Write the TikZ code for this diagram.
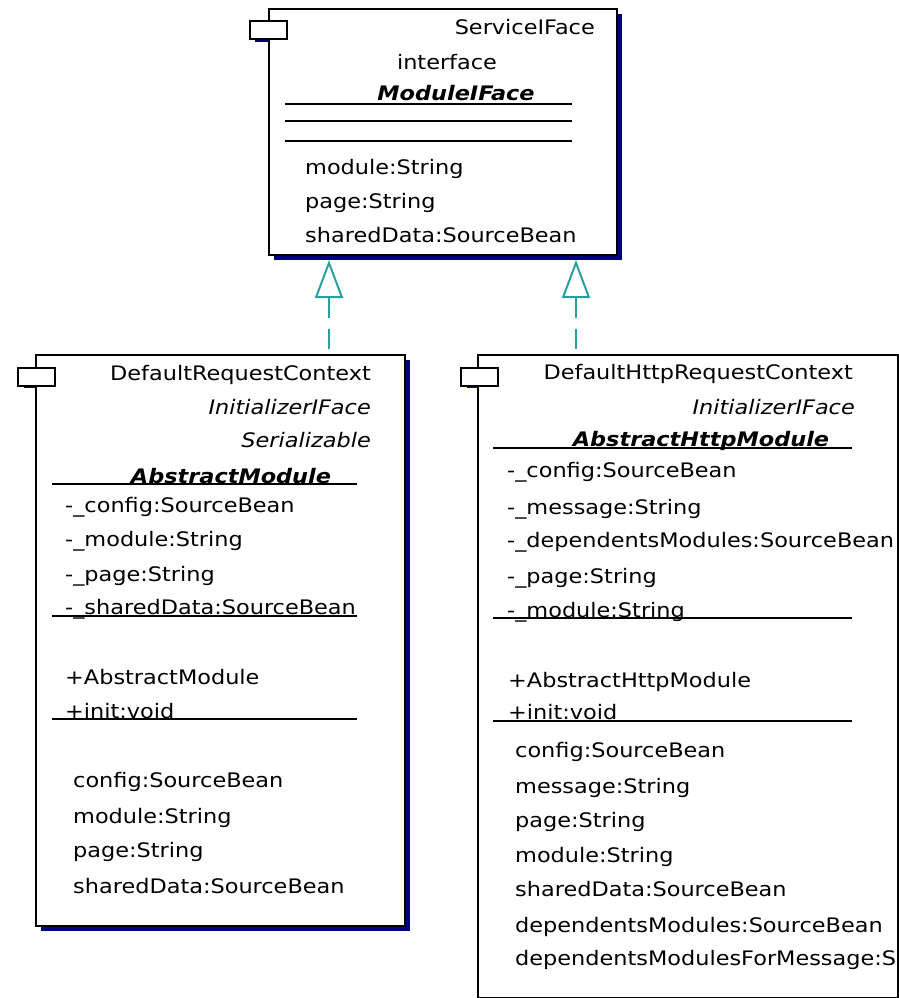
\documentclass[tikz,border=0pt]{standalone}
\usepackage{fontspec}
\setmainfont{DejaVu Sans}[FakeStretch=1.12]
\usetikzlibrary{arrows.meta,shadows}
\definecolor{shadowblue}{RGB}{0,0,128}
\definecolor{realteal}{RGB}{40,160,160}
\tikzset{
  classbox/.style={draw=black, line width=1.8pt, fill=white, anchor=north west,
    inner sep=0pt, general shadow={fill=shadowblue, shadow xshift=5pt, shadow yshift=-5pt}},
  icon/.style={draw=black, line width=1.8pt, fill=white, anchor=north west,
    inner sep=0pt, minimum width=37pt, minimum height=18pt},
  iconshade/.style={fill=shadowblue},
  lt/.style={anchor=base west, inner sep=0pt},
  rt/.style={anchor=base east, inner sep=0pt},
  ct/.style={anchor=base, inner sep=0pt},
  sep/.style={draw=black, line width=1.8pt},
  realize/.style={draw=realteal, line width=2pt, dash pattern=on 20pt off 11pt,
    {Triangle[open, length=38pt, width=28pt, line width=2pt]}-}
}
\begin{document}
\begin{tikzpicture}[x=1pt, y=-1pt, font=\fontsize{20}{24}\selectfont]
\useasboundingbox (0,0) rectangle (898,998);

% shadows of the component icons, left of each class outline
\fill[iconshade] (255,39) rectangle (270,42.5);
\fill[iconshade] (24,384) rectangle (37,387.5);
\fill[iconshade] (467,384) rectangle (479,387.5);

% ---------- ServiceIFace ----------
\node[classbox, minimum width=348pt, minimum height=246pt] (tbox) at (268,8) {};
\node[icon] (ticon) at (249,20) {};
\node[rt] (tname) at (595,35) {ServiceIFace};
\node[ct] (tster) at (447,70) {interface};
\node[ct] (tsuper) at (456,100) {\bfseries\itshape ModuleIFace};
\draw[sep] (285,104) -- (572,104);
\draw[sep] (285,121) -- (572,121);
\draw[sep] (285,141) -- (572,141);
\node[lt] (ta1) at (305,174) {module:String};
\node[lt] (ta2) at (305,208) {page:String};
\node[lt] (ta3) at (305,242) {sharedData:SourceBean};

% ---------- DefaultRequestContext ----------
\node[classbox, minimum width=369pt, minimum height=571pt] (lbox) at (35,354) {};
\node[icon] (licon) at (17,367) {};
\node[rt] (lname) at (371,380) {DefaultRequestContext};
\node[rt] (li1) at (371,414) {\itshape InitializerIFace};
\node[rt] (li2) at (371,447) {\itshape Serializable};
\node[ct] (lsuper) at (231,483) {\bfseries\itshape AbstractModule};
\draw[sep] (52,484) -- (357,484);
\node[lt] (lf1) at (65,512) {-\_config:SourceBean};
\node[lt] (lf2) at (65,546) {-\_module:String};
\node[lt] (lf3) at (65,581) {-\_page:String};
\node[lt] (lf4) at (65,614) {-\_sharedData:SourceBean};
\draw[sep] (52,616) -- (357,616);
\node[lt] (lm1) at (65,684) {+AbstractModule};
\node[lt] (lm2) at (65,718) {+init:void};
\draw[sep] (52,719) -- (357,719);
\node[lt] (lp1) at (73,787) {config:SourceBean};
\node[lt] (lp2) at (73,823) {module:String};
\node[lt] (lp3) at (73,857) {page:String};
\node[lt] (lp4) at (73,893) {sharedData:SourceBean};

% ---------- DefaultHttpRequestContext ----------
\node[classbox, minimum width=420pt, minimum height=643pt] (rbox) at (477,354) {};
\node[icon] (ricon) at (460,367) {};
\begin{scope}
\clip (rbox.north west) rectangle (rbox.south east);
\node[rt] (rname) at (853,379) {DefaultHttpRequestContext};
\node[rt] (ri1) at (855,414) {\itshape InitializerIFace};
\node[ct] (rsuper) at (701,446) {\bfseries\itshape AbstractHttpModule};
\draw[sep] (493,448) -- (852,448);
\node[lt] (rf1) at (507,477) {-\_config:SourceBean};
\node[lt] (rf2) at (507,514) {-\_message:String};
\node[lt] (rf3) at (507,547) {-\_dependentsModules:SourceBean};
\node[lt] (rf4) at (507,583) {-\_page:String};
\node[lt] (rf5) at (507,617) {-\_module:String};
\draw[sep] (493,618) -- (852,618);
\node[lt] (rm1) at (508,687) {+AbstractHttpModule};
\node[lt] (rm2) at (508,719) {+init:void};
\draw[sep] (493,721) -- (852,721);
\node[lt] (rp1) at (515,757) {config:SourceBean};
\node[lt] (rp2) at (515,793) {message:String};
\node[lt] (rp3) at (515,827) {page:String};
\node[lt] (rp4) at (515,862) {module:String};
\node[lt] (rp5) at (515,896) {sharedData:SourceBean};
\node[lt] (rp6) at (515,932) {dependentsModules:SourceBean};
\node[lt] (rp7) at (515,965) {dependentsModulesForMessage:SourceBean};
\end{scope}

% ---------- realizations ----------
\coordinate (ltip) at (329,260);
\coordinate (rtip) at (576,260);
\draw[realize] (ltip) -- (ltip |- lbox.north);
\draw[realize] (rtip) -- (rtip |- rbox.north);
\end{tikzpicture}
\end{document}
